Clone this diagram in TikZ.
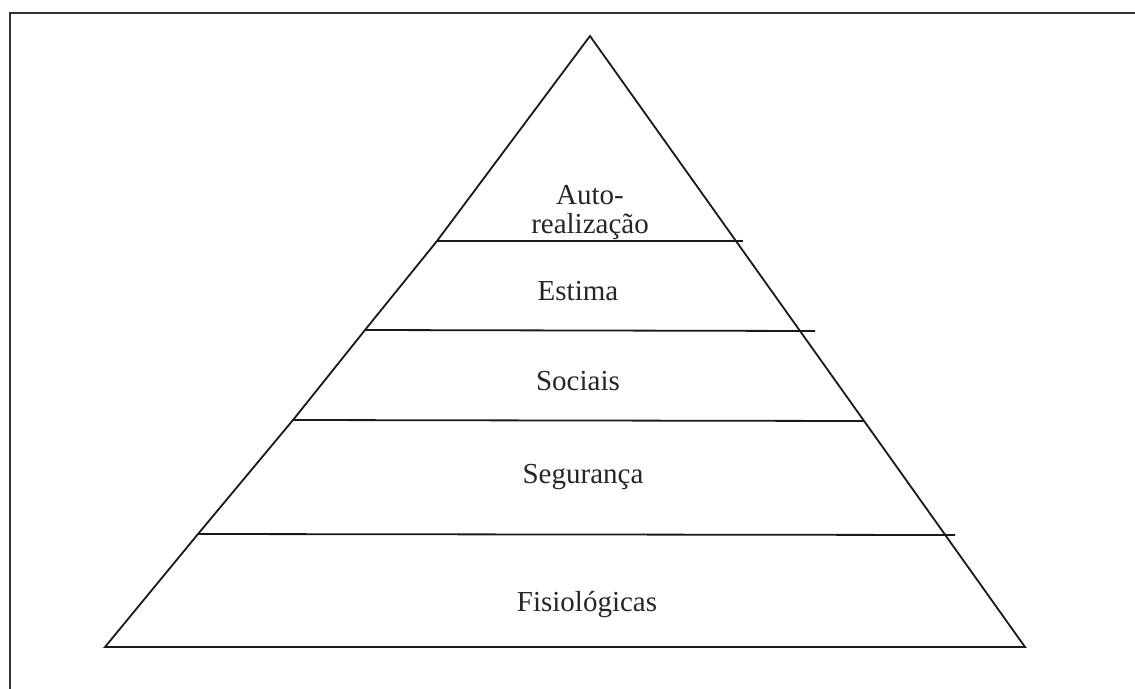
\documentclass[tikz,border=0pt]{standalone}
\usepackage{fontspec}
\setmainfont{Liberation Serif}
\begin{document}
\begin{tikzpicture}[x=1pt,y=-1pt,
  edge/.style={line width=1.8pt,black!90,line join=miter},
  level/.style={font=\fontsize{29}{30}\selectfont,anchor=base,inner sep=0pt,text=black!85}]
\useasboundingbox (0,0) rectangle (1135,688);
\fill[white] (0,0) rectangle (1135,688);
% frame (runs off the right and bottom)
\draw[line width=1.8pt,black!80] (1140,13) -- (10,13) -- (10,692);
% vertices
\coordinate (A) at (590,36);
\coordinate (L1) at (437,241);
\coordinate (L2) at (365,330);
\coordinate (L3) at (293,420);
\coordinate (L4) at (198,534);
\coordinate (BL) at (105,647);
\coordinate (BR) at (1025,647);
\coordinate (R1) at (743,241);
\coordinate (R2) at (815,331);
\coordinate (R3) at (864,421);
\coordinate (R4) at (955,535);
% pyramid
\draw[edge] (BR) -- (A) -- (L1) -- (L2) -- (L3) -- (L4) -- (BL) -- cycle;
\draw[edge] (L1) -- (R1);
\draw[edge] (L2) -- (R2);
\draw[edge] (L3) -- (R3);
\draw[edge] (L4) -- (R4);
% labels
\node[level] (auto) at (590,204) {Auto-};
\node[level] (real) at (590,233) {realização};
\node[level] (est) at (578,300) {Estima};
\node[level] (soc) at (578,390) {Sociais};
\node[level] (seg) at (583,483) {Segurança};
\node[level] (fis) at (587,611) {Fisiológicas};
\end{tikzpicture}
\end{document}
